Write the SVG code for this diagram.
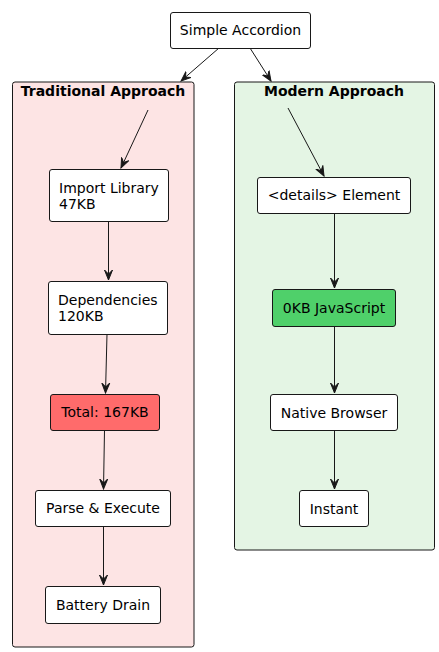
<svg xmlns="http://www.w3.org/2000/svg" width="439" height="652" viewBox="0 0 439 652">
<style>
.node{fill:#FFFFFF;stroke:#181818;stroke-width:1}
.t{font-family:"DejaVu Sans",sans-serif;font-size:14px;fill:#000000}
.c{text-anchor:middle}
.title{font-family:"DejaVu Sans",sans-serif;font-size:14px;font-weight:bold;text-anchor:middle;fill:#000000}
.edge{stroke:#181818;stroke-width:1;fill:none;marker-end:url(#ah)}
</style>
<defs>
<marker id="ah" markerUnits="userSpaceOnUse" markerWidth="11" markerHeight="10" viewBox="-10 -5 11 10" refX="0" refY="0" orient="auto">
<path d="M0,0 L-10,-4 L-6,0 L-10,4 Z" fill="#181818" stroke="#181818" stroke-width="1"/>
</marker>
</defs>
<rect width="439" height="652" fill="#FFFFFF"/>
<g id="traditional">
<rect x="12.5" y="82" width="181.5" height="565" rx="2.5" fill="#FDE4E4" stroke="#181818"/>
<text class="title" x="103" y="96">Traditional Approach</text>
</g>
<g id="modern">
<rect x="234.5" y="82" width="200" height="468" rx="2.5" fill="#E4F5E4" stroke="#181818"/>
<text class="title" x="334" y="96">Modern Approach</text>
</g>
<g id="connectors">
<line class="edge" x1="219" y1="48" x2="181" y2="81"/>
<line class="edge" x1="250" y1="48" x2="271" y2="81"/>
<line class="edge" x1="148" y1="110" x2="121" y2="168"/>
<line class="edge" x1="108.5" y1="221" x2="108.5" y2="280"/>
<line class="edge" x1="107" y1="334" x2="105.5" y2="393"/>
<line class="edge" x1="104.5" y1="430" x2="103.5" y2="489"/>
<line class="edge" x1="103.5" y1="526" x2="103.5" y2="585"/>
<line class="edge" x1="288" y1="108" x2="324" y2="176"/>
<line class="edge" x1="334.5" y1="213" x2="334.5" y2="288"/>
<line class="edge" x1="334.5" y1="326" x2="334.5" y2="393"/>
<line class="edge" x1="334.5" y1="430" x2="334.5" y2="489"/>
</g>
<g id="simple-accordion">
<rect class="node" x="170.5" y="12.5" width="140" height="36" rx="2.5"/>
<text class="t c" x="240.5" y="35">Simple Accordion</text>
</g>
<g id="import-library">
<rect class="node" x="49.5" y="169.5" width="119" height="52" rx="2.5"/>
<text class="t" x="59" y="193">Import Library</text>
<text class="t" x="59" y="209">47KB</text>
</g>
<g id="dependencies">
<rect class="node" x="48.5" y="281.5" width="119" height="53" rx="2.5"/>
<text class="t" x="58" y="305">Dependencies</text>
<text class="t" x="58" y="321">120KB</text>
</g>
<g id="total">
<rect x="50.5" y="394.5" width="109" height="36" rx="2.5" fill="#FF6B6B" stroke="#181818"/>
<text class="t c" x="105" y="417">Total: 167KB</text>
</g>
<g id="parse-execute">
<rect class="node" x="35.5" y="490.5" width="135" height="36" rx="2.5"/>
<text class="t c" x="103" y="513">Parse &amp; Execute</text>
</g>
<g id="battery-drain">
<rect class="node" x="45.5" y="586.5" width="115" height="37" rx="2.5"/>
<text class="t c" x="103" y="610">Battery Drain</text>
</g>
<g id="details-element">
<rect class="node" x="257.5" y="177.5" width="153" height="36" rx="2.5"/>
<text class="t c" x="334" y="200">&lt;details&gt; Element</text>
</g>
<g id="zero-kb">
<rect x="272.5" y="289.5" width="123" height="37" rx="2.5" fill="#4FD06A" stroke="#181818"/>
<text class="t c" x="334" y="313">0KB JavaScript</text>
</g>
<g id="native-browser">
<rect class="node" x="270.5" y="394.5" width="127" height="36" rx="2.5"/>
<text class="t c" x="334" y="418">Native Browser</text>
</g>
<g id="instant">
<rect class="node" x="299.5" y="490.5" width="69" height="36" rx="2.5"/>
<text class="t c" x="334" y="514">Instant</text>
</g>
</svg>
